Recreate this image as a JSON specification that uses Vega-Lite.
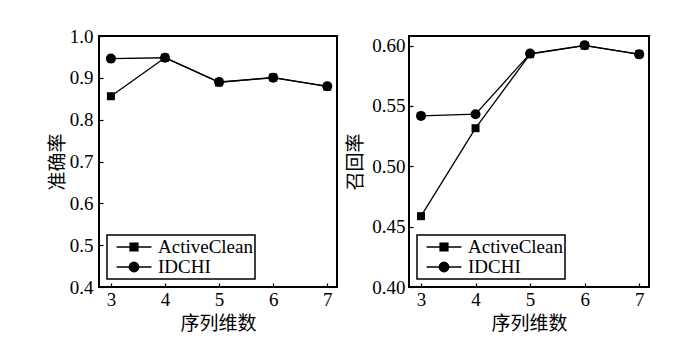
{
  "$schema": "https://vega.github.io/schema/vega-lite/v6.json",
  "padding": {"left": 47, "top": 26, "right": 0, "bottom": 0},
  "background": "white",
  "bounds": "flush",
  "spacing": 72,
  "datasets": {
    "acc": [
      {"dim": 3, "series": "ActiveClean", "value": 0.856},
      {"dim": 4, "series": "ActiveClean", "value": 0.948},
      {"dim": 5, "series": "ActiveClean", "value": 0.889},
      {"dim": 6, "series": "ActiveClean", "value": 0.901},
      {"dim": 7, "series": "ActiveClean", "value": 0.879},
      {"dim": 3, "series": "IDCHI", "value": 0.946},
      {"dim": 4, "series": "IDCHI", "value": 0.948},
      {"dim": 5, "series": "IDCHI", "value": 0.890},
      {"dim": 6, "series": "IDCHI", "value": 0.900},
      {"dim": 7, "series": "IDCHI", "value": 0.880}
    ],
    "rec": [
      {"dim": 3, "series": "ActiveClean", "value": 0.4587},
      {"dim": 4, "series": "ActiveClean", "value": 0.5316},
      {"dim": 5, "series": "ActiveClean", "value": 0.593},
      {"dim": 6, "series": "ActiveClean", "value": 0.600},
      {"dim": 7, "series": "ActiveClean", "value": 0.593},
      {"dim": 3, "series": "IDCHI", "value": 0.5418},
      {"dim": 4, "series": "IDCHI", "value": 0.5432},
      {"dim": 5, "series": "IDCHI", "value": 0.5934},
      {"dim": 6, "series": "IDCHI", "value": 0.6003},
      {"dim": 7, "series": "IDCHI", "value": 0.5928}
    ]
  },
  "resolve": {"scale": {"shape": "independent"}, "legend": {"shape": "independent"}},
  "config": {
    "font": "Liberation Serif",
    "view": {"stroke": "black", "strokeWidth": 2},
    "axis": {
      "grid": false,
      "domain": false,
      "tickColor": "black",
      "tickSize": -4,
      "tickWidth": 1.2,
      "labelFont": "Liberation Serif",
      "labelFontSize": 19,
      "labelColor": "black",
      "titleFont": "Noto Sans CJK SC",
      "titleFontSize": 19,
      "titleFontWeight": "normal",
      "titleColor": "black"
    },
    "legend": {
      "orient": "bottom-left",
      "offset": 8,
      "title": null,
      "strokeColor": "black",
      "strokeWidth": 1.5,
      "fillColor": "white",
      "padding": 2,
      "labelFont": "Liberation Serif",
      "labelFontSize": 19,
      "labelColor": "black",
      "symbolSize": 324,
      "rowPadding": 0,
      "symbolOffset": 15,
      "labelOffset": 14
    }
  },
  "hconcat": [
    {
      "width": 238,
      "height": 251,
      "data": {"name": "acc"},
      "resolve": {"scale": {"shape": "independent"}},
      "encoding": {
        "x": {"field": "dim", "type": "quantitative", "scale": {"domain": [2.78, 7.18], "nice": false, "zero": false},
          "axis": {"values": [3, 4, 5, 6, 7], "title": "序列维数", "labelPadding": 7, "titlePadding": 5}},
        "y": {"field": "value", "type": "quantitative", "scale": {"domain": [0.4, 1.0], "nice": false, "zero": false},
          "axis": {"values": [0.4, 0.5, 0.6, 0.7, 0.8, 0.9, 1.0], "format": ".1f", "title": "准确率", "labelPadding": 10, "titlePadding": 2}}
      },
      "layer": [
        {"mark": {"type": "line", "color": "black", "strokeWidth": 1.3}, "encoding": {"detail": {"field": "series"}}},
        {"mark": {"type": "point", "filled": true, "color": "black", "opacity": 1, "size": 100},
          "encoding": {
            "shape": {"field": "series", "type": "nominal", "scale": {"domain": ["ActiveClean", "IDCHI"], "range": ["M-0.8,-0.8H0.8V0.8H-0.8Z", "circle"]}, "legend": null}
          }},
        {"mark": {"type": "point", "filled": true, "fill": "black", "stroke": "black", "strokeWidth": 1.3, "opacity": 1, "size": 0},
          "encoding": {
            "shape": {"field": "series", "type": "nominal",
              "scale": {"domain": ["ActiveClean", "IDCHI"], "range": ["M-1.94,0H1.94M-0.44,-0.44H0.44V0.44H-0.44Z", "M-1.94,0H1.94M0.53,0A0.53,0.53,0,1,1,-0.53,0A0.53,0.53,0,1,1,0.53,0Z"]},
              "legend": {"symbolSize": 324, "symbolStrokeWidth": 1.3}}
          }}
      ]
    },
    {
      "width": 240,
      "height": 251,
      "data": {"name": "rec"},
      "resolve": {"scale": {"shape": "independent"}},
      "encoding": {
        "x": {"field": "dim", "type": "quantitative", "scale": {"domain": [2.78, 7.18], "nice": false, "zero": false},
          "axis": {"values": [3, 4, 5, 6, 7], "title": "序列维数", "labelPadding": 7, "titlePadding": 5}},
        "y": {"field": "value", "type": "quantitative", "scale": {"domain": [0.4, 0.608], "nice": false, "zero": false},
          "axis": {"values": [0.4, 0.45, 0.5, 0.55, 0.6], "format": ".2f", "title": "召回率", "labelPadding": 8, "titlePadding": 6}}
      },
      "layer": [
        {"mark": {"type": "line", "color": "black", "strokeWidth": 1.3}, "encoding": {"detail": {"field": "series"}}},
        {"mark": {"type": "point", "filled": true, "color": "black", "opacity": 1, "size": 100},
          "encoding": {
            "shape": {"field": "series", "type": "nominal", "scale": {"domain": ["ActiveClean", "IDCHI"], "range": ["M-0.8,-0.8H0.8V0.8H-0.8Z", "circle"]}, "legend": null}
          }},
        {"mark": {"type": "point", "filled": true, "fill": "black", "stroke": "black", "strokeWidth": 1.3, "opacity": 1, "size": 0},
          "encoding": {
            "shape": {"field": "series", "type": "nominal",
              "scale": {"domain": ["ActiveClean", "IDCHI"], "range": ["M-1.94,0H1.94M-0.44,-0.44H0.44V0.44H-0.44Z", "M-1.94,0H1.94M0.53,0A0.53,0.53,0,1,1,-0.53,0A0.53,0.53,0,1,1,0.53,0Z"]},
              "legend": {"symbolSize": 324, "symbolStrokeWidth": 1.3}}
          }}
      ]
    }
  ]
}
